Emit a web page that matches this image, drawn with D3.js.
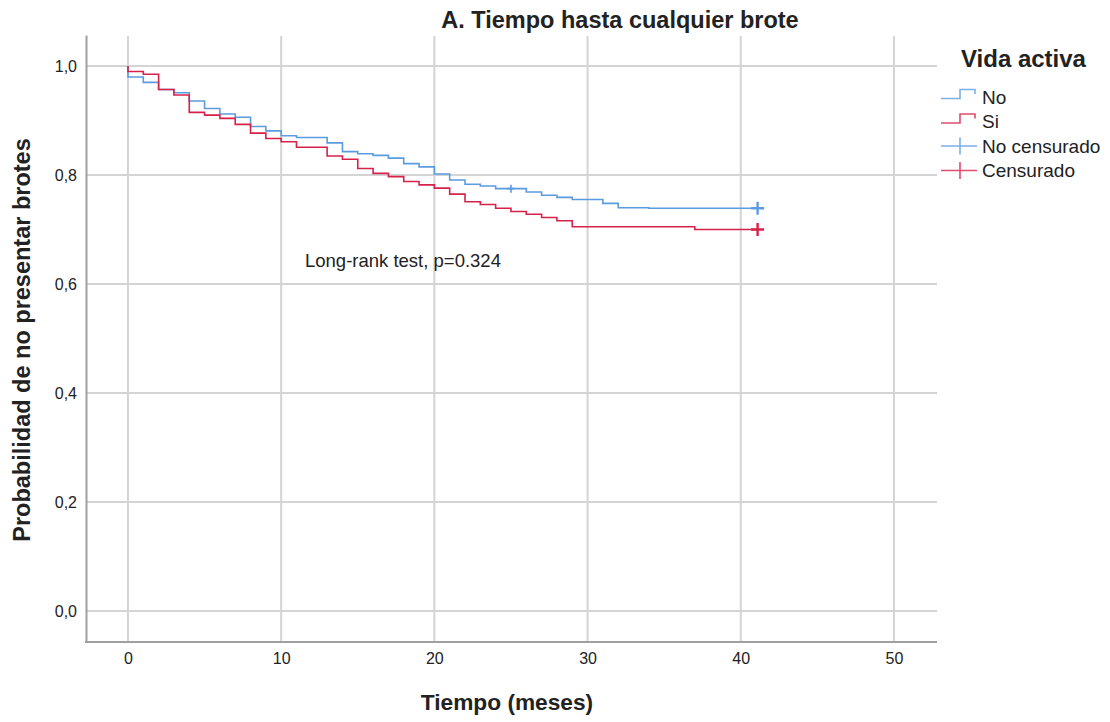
<!DOCTYPE html>
<html>
<head>
<meta charset="utf-8">
<script src="https://cdn.jsdelivr.net/npm/d3@7"></script>
<style>
  body { margin: 0; background: #fff; }
  text { font-family: "Liberation Sans", Arial, sans-serif; fill: #222; }
</style>
</head>
<body>
<div id="chart"></div>
<script>
// Kaplan-Meier steps (time in months, survival)
var noTimes  = [0, 0, 1, 2, 3, 4, 5, 6, 7, 8, 9, 10, 11, 13, 14, 15, 16, 17, 18, 19, 20, 21, 22, 23, 24, 26, 27, 28, 29, 31, 32, 34, 41.1];
var noSurv   = [1.0, 0.980, 0.970, 0.957, 0.951, 0.936, 0.922, 0.912, 0.906, 0.889, 0.881, 0.872, 0.869, 0.859, 0.843, 0.839, 0.836, 0.831, 0.821, 0.815, 0.802, 0.791, 0.783, 0.780, 0.775, 0.769, 0.763, 0.759, 0.755, 0.748, 0.740, 0.739, 0.739];
var siTimes  = [0, 0, 1, 2, 3, 4, 5, 6, 7, 8, 9, 10, 11, 13, 14, 15, 16, 17, 18, 19, 20, 21, 22, 23, 24, 25, 26, 27, 28, 29, 37, 41.1];
var siSurv   = [1.0, 0.990, 0.985, 0.957, 0.947, 0.915, 0.910, 0.904, 0.893, 0.877, 0.867, 0.861, 0.851, 0.835, 0.829, 0.812, 0.803, 0.797, 0.788, 0.782, 0.776, 0.765, 0.751, 0.746, 0.739, 0.733, 0.728, 0.722, 0.716, 0.705, 0.700, 0.700];
// censored observations: time, survival at that time, how many
var noCensT = [25, 41.1];
var noCensS = [0.775, 0.739];
var noCensN = [1, 2];
var siCensT = [41.1];
var siCensS = [0.700];
var siCensN = [2];

var xTicks = [0, 10, 20, 30, 40, 50];
var yTicks = [0, 0.2, 0.4, 0.6, 0.8, 1.0];
var legendLabels = ["No", "Si", "No censurado", "Censurado"];

var blue = "#5b9be0", red = "#d8214a";

var svg = d3.select("#chart").append("svg")
  .attr("width", 1110)
  .attr("height", 722);

var pLeft = 86, pRight = 937, pTop = 35, pBottom = 642;

var x = d3.scaleLinear().domain([-2.74, 52.81]).range([pLeft, pRight]);
var y = d3.scaleLinear().domain([-0.057, 1.057]).range([pBottom, pTop]);

var esLocale = d3.formatLocale({decimal: ",", thousands: ".", grouping: [3], currency: ["", "€"]});
var fmt = esLocale.format(".1f");

// grid
svg.append("g").selectAll("line").data(yTicks).enter().append("line")
  .attr("x1", pLeft).attr("x2", pRight)
  .attr("y1", d => y(d)).attr("y2", d => y(d))
  .style("stroke", "#d4d4d4").style("stroke-width", 2);
svg.append("g").selectAll("line").data(xTicks).enter().append("line")
  .attr("x1", d => x(d)).attr("x2", d => x(d))
  .attr("y1", pTop + 1).attr("y2", pBottom)
  .style("stroke", "#d4d4d4").style("stroke-width", 2);

// axes
var yAxis = svg.append("g")
  .attr("transform", "translate(" + pLeft + ",0)")
  .call(d3.axisLeft(y).tickValues(yTicks).tickFormat(fmt).tickSize(0).tickPadding(9));
var xAxis = svg.append("g")
  .attr("transform", "translate(0," + pBottom + ")")
  .call(d3.axisBottom(x).tickValues(xTicks).tickSize(0).tickPadding(11));
[yAxis, xAxis].forEach(function(a) {
  a.select(".domain").style("stroke", "#a0a0a0").style("stroke-width", 2);
  a.selectAll("text").style("font-size", "16px").style("fill", "#222")
    .style("font-family", "'Liberation Sans', Arial, sans-serif");
});
xAxis.select(".domain").attr("d", "M" + (pLeft - 1) + ",0H" + pRight);

// curves
var line = d3.line()
  .x(d => x(d[0]))
  .y(d => y(d[1]))
  .curve(d3.curveStepAfter);

function drawCurve(times, surv, color) {
  svg.append("path")
    .datum(d3.zip(times, surv))
    .attr("d", line)
    .style("fill", "none")
    .style("stroke", color)
    .style("stroke-width", 1.6);
}
drawCurve(noTimes, noSurv, blue);
drawCurve(siTimes, siSurv, red);

function drawCens(times, surv, counts, color) {
  var g = svg.append("g");
  d3.zip(times, surv, counts).forEach(function(d) {
    var h = d[2] > 1 ? 6.5 : 4;
    var cx = x(d[0]), cy = y(d[1]);
    g.append("path")
      .attr("d", "M" + (cx - h) + "," + cy + "H" + (cx + h) + "M" + cx + "," + (cy - h) + "V" + (cy + h))
      .style("stroke", color)
      .style("stroke-width", d[2] > 1 ? 2.4 : 1.6)
      .style("fill", "none");
  });
}
drawCens(noCensT, noCensS, noCensN, blue);
drawCens(siCensT, siCensS, siCensN, red);

// texts
svg.append("text")
  .attr("x", 620).attr("y", 28)
  .attr("text-anchor", "middle")
  .style("font-size", "23.5px").style("font-weight", "bold")
  .text("A. Tiempo hasta cualquier brote");

svg.append("text")
  .attr("x", 305).attr("y", 267)
  .style("font-size", "18.5px")
  .text("Long-rank test, p=0.324");

svg.append("text")
  .attr("x", 507).attr("y", 710)
  .attr("text-anchor", "middle")
  .style("font-size", "22.7px").style("font-weight", "bold")
  .text("Tiempo (meses)");

svg.append("text")
  .attr("transform", "translate(30,340) rotate(-90)")
  .attr("text-anchor", "middle")
  .style("font-size", "23.5px").style("font-weight", "bold")
  .text("Probabilidad de no presentar brotes");

// legend
var lg = svg.append("g");
lg.append("text")
  .attr("x", 961).attr("y", 67)
  .style("font-size", "24px").style("font-weight", "bold")
  .text("Vida activa");

var legendColors = [blue, red, blue, red];
legendLabels.forEach(function(lab, i) {
  var cy = 97 + i * 24.5;
  var sym;
  if (i < 2) {
    sym = "M941," + (cy + 1.5) + "H960V" + (cy - 7.5) + "H975V" + (cy - 3);
  } else {
    sym = "M941," + cy + "H977M960," + (cy - 8.5) + "V" + (cy + 8.5);
  }
  lg.append("path")
    .attr("d", sym)
    .style("fill", "none")
    .style("stroke", legendColors[i])
    .style("stroke-width", 1.6)
    .style("opacity", 0.8);
  lg.append("text")
    .attr("x", 982).attr("y", cy + 6.5)
    .style("font-size", "19px")
    .text(lab);
});
</script>
</body>
</html>
